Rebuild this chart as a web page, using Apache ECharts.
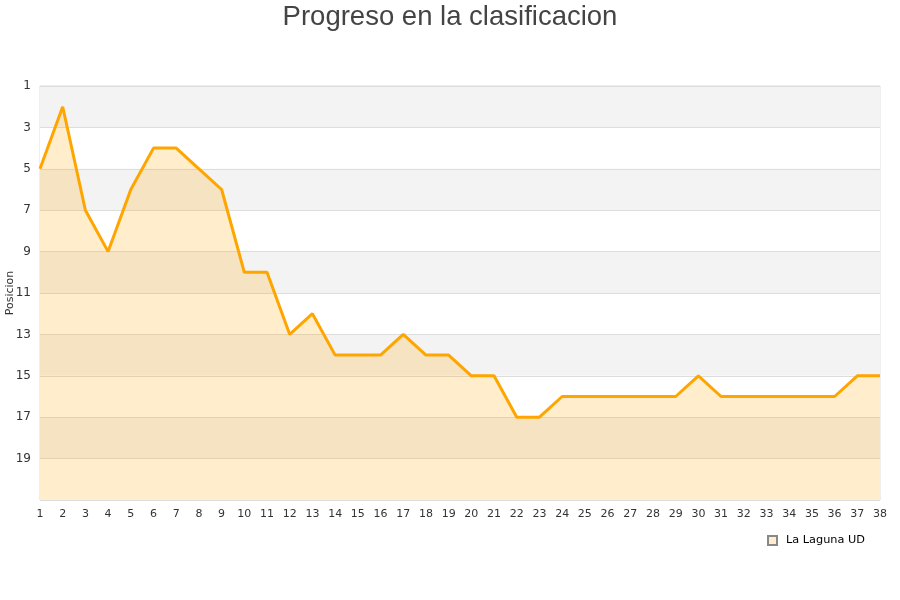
<!DOCTYPE html>
<html><head><meta charset="utf-8">
<script src="https://cdn.jsdelivr.net/npm/echarts@6/dist/echarts.min.js"></script>
<style>html,body{margin:0;padding:0;background:#fff}#c{width:900px;height:600px}</style>
</head><body><div id="c"></div>
<script>
const jornadas = ['1','2','3','4','5','6','7','8','9','10','11','12','13','14','15','16','17','18','19','20','21','22','23','24','25','26','27','28','29','30','31','32','33','34','35','36','37','38'];
const posiciones = [5,2,7,9,6,4,4,5,6,10,10,13,12,14,14,14,13,14,14,15,15,17,17,16,16,16,16,16,16,15,16,16,16,16,16,16,15,15];
const equipo = 'La Laguna UD';
const titulo = 'Progreso en la clasificacion';
const ejeY = 'Posicion';

const chart = echarts.init(document.getElementById('c'));
chart.setOption({
  animation: false,
  title: {text: titulo, left: 'center', top: -2, textStyle: {fontSize: 27.5, fontWeight: 'normal', color: '#444', fontFamily: 'Liberation Sans'}},
  grid: {left: 40, right: 20, top: 86, bottom: 100, show: true, borderColor: '#ddd', borderWidth: 1, containLabel: false, outerBoundsMode: 'none'},
  legend: {data: [equipo], right: 30, top: 530, itemWidth: 9, itemHeight: 9, icon: 'rect', itemGap: 8,
    textStyle: {fontSize: 11.3, color: '#000', fontFamily: 'DejaVu Sans', padding: [0, 0, 0, 4]}},
  xAxis: {type: 'category', data: jornadas, boundaryGap: false,
    axisLine: {show: false}, axisTick: {show: false},
    axisLabel: {interval: 0, fontSize: 11, color: '#333', margin: 9, fontFamily: 'DejaVu Sans'},
    splitLine: {show: false}},
  yAxis: {type: 'value', inverse: true, min: 1, max: 21, interval: 2,
    name: ejeY, nameLocation: 'middle', nameGap: 24, nameRotate: 90, nameMoveOverlap: false,
    nameTextStyle: {fontSize: 11, color: '#333', fontFamily: 'DejaVu Sans'},
    axisLine: {show: false}, axisTick: {show: false},
    axisLabel: {fontSize: 12, color: '#333', margin: 9, fontFamily: 'DejaVu Sans', showMaxLabel: false,
      formatter: v => v === 21 ? '' : String(v)},
    splitLine: {show: true, lineStyle: {color: '#ddd'}},
    splitArea: {show: true, areaStyle: {color: ['#f3f3f3', '#ffffff']}}},
  series: [{name: equipo, type: 'line', data: posiciones, symbol: 'none',
    lineStyle: {color: '#ffa500', width: 3},
    itemStyle: {color: '#ffedcc', borderColor: '#888', borderWidth: 1},
    areaStyle: {color: 'rgba(255,165,0,0.2)', opacity: 1, origin: 'end'}}]
});
</script></body></html>
